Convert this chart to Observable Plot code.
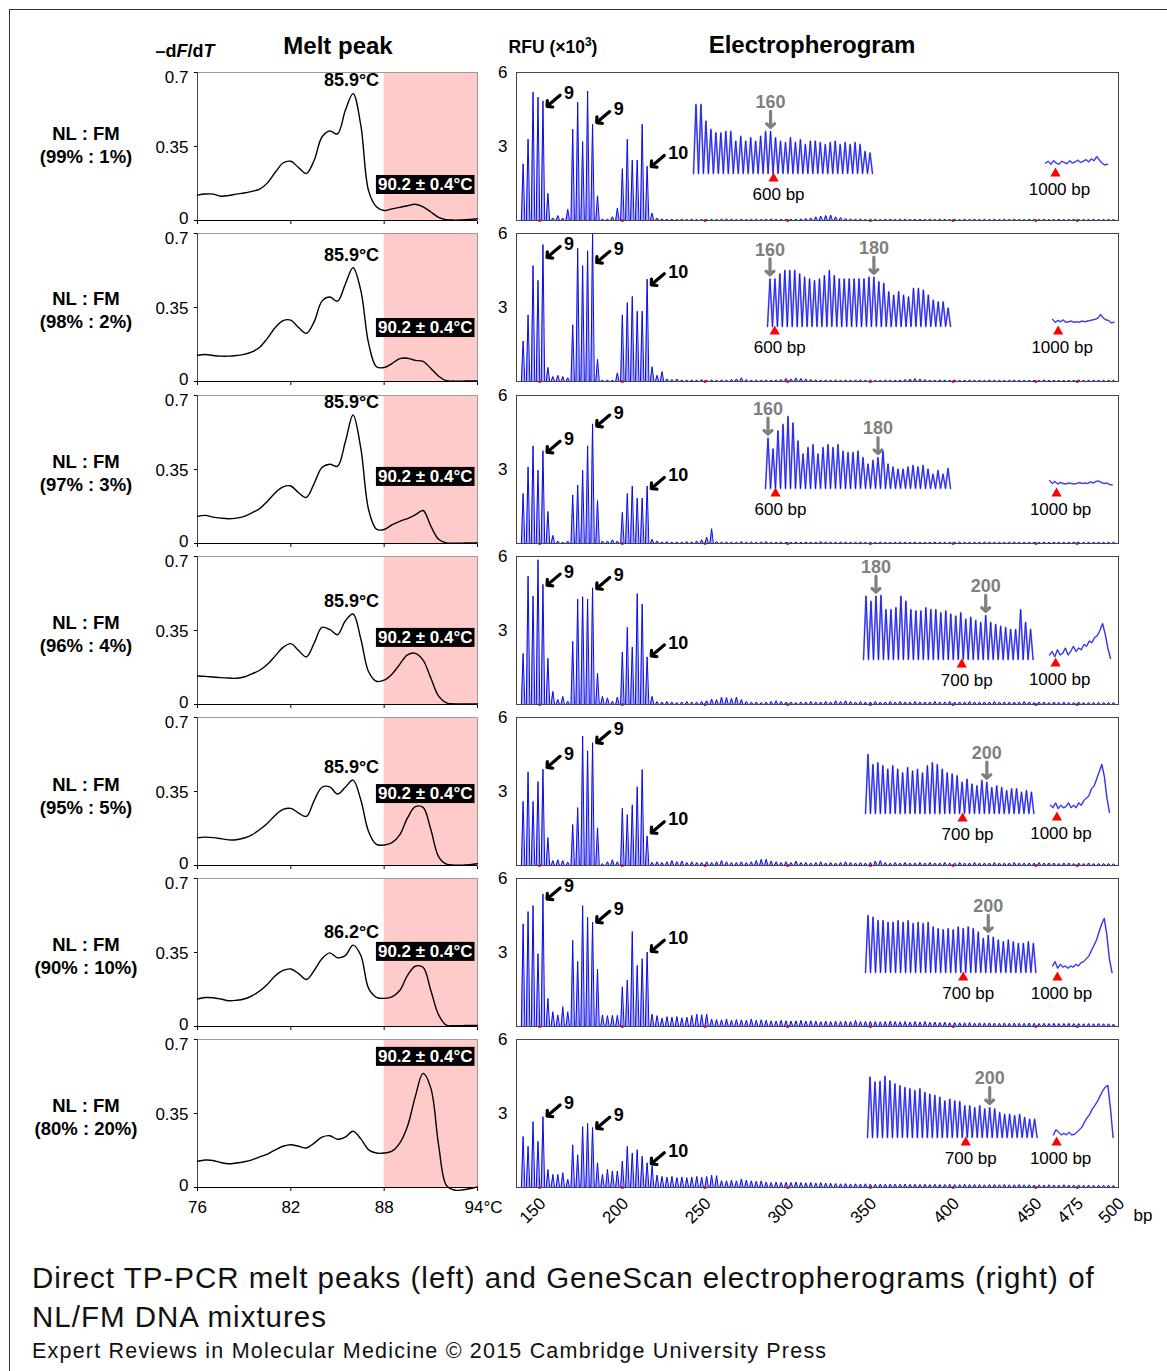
<!DOCTYPE html>
<html><head><meta charset="utf-8">
<script src="https://cdn.jsdelivr.net/npm/d3@7"></script>
<script src="https://cdn.jsdelivr.net/npm/@observablehq/plot@0.6"></script>
<style>
body{margin:0;background:#fff}
#fig{position:relative;width:1167px;height:1371px;overflow:hidden;background:#fff;font-family:"Liberation Sans",Arial,Helvetica,sans-serif;color:#000}
.lbl{position:absolute;line-height:1;white-space:nowrap}
</style></head><body>
<div id="fig"><div style="position:absolute;left:9px;top:9px;width:1300px;height:1500px;border:1.5px solid #333"></div></div>
<script>
// ---------------- DATA ----------------
const mixLabels = ["(99% : 1%)", "(98% : 2%)", "(97% : 3%)", "(96% : 4%)", "(95% : 5%)", "(90% : 10%)", "(80% : 20%)"];
const ratioLabel = "NL : FM";

// Melt peak curves (-dF/dT) sampled every 0.5 °C
const meltT = [76,76.5,77,77.5,78,78.5,79,79.5,80,80.5,81,81.5,82,82.5,83,83.5,84,84.5,85,85.5,86,86.5,87,87.5,88,88.5,89,89.5,90,90.5,91,91.5,92,92.5,93,93.5,94];
const melt1 = [0.12,0.125,0.125,0.115,0.118,0.125,0.13,0.138,0.148,0.178,0.228,0.272,0.28,0.25,0.222,0.285,0.395,0.423,0.41,0.52,0.6,0.45,0.14,0.065,0.047,0.055,0.062,0.07,0.077,0.065,0.04,0.015,0.004,0.002,0.003,0.005,0.008];
const melt2 = [0.124,0.128,0.123,0.12,0.12,0.123,0.128,0.14,0.162,0.205,0.255,0.288,0.29,0.255,0.228,0.283,0.38,0.4,0.38,0.46,0.538,0.43,0.18,0.07,0.066,0.085,0.108,0.11,0.1,0.095,0.062,0.025,0.004,0.002,0.002,0.003,0.003];
const melt3 = [0.128,0.133,0.125,0.12,0.117,0.12,0.128,0.145,0.165,0.2,0.24,0.268,0.272,0.24,0.218,0.284,0.36,0.375,0.365,0.48,0.608,0.45,0.16,0.068,0.066,0.088,0.105,0.118,0.135,0.156,0.082,0.02,0.003,0.002,0.002,0.003,0.003];
const melt4 = [0.135,0.133,0.13,0.127,0.125,0.124,0.13,0.145,0.162,0.19,0.23,0.27,0.288,0.255,0.225,0.29,0.365,0.355,0.33,0.395,0.428,0.31,0.155,0.11,0.115,0.143,0.19,0.235,0.242,0.21,0.125,0.04,0.008,0.003,0.003,0.003,0.003];
const melt5 = [0.131,0.134,0.132,0.127,0.121,0.122,0.13,0.145,0.17,0.2,0.238,0.265,0.27,0.248,0.232,0.307,0.37,0.372,0.338,0.37,0.404,0.31,0.16,0.1,0.097,0.108,0.145,0.225,0.278,0.275,0.17,0.042,0.006,0.002,0.002,0.004,0.008];
const melt6 = [0.13,0.137,0.136,0.13,0.122,0.124,0.13,0.145,0.168,0.2,0.24,0.265,0.272,0.25,0.222,0.265,0.32,0.348,0.325,0.335,0.385,0.336,0.18,0.138,0.133,0.14,0.17,0.242,0.285,0.28,0.17,0.055,0.006,0.004,0.004,0.005,0.005];
const melt7 = [0.124,0.13,0.128,0.118,0.112,0.116,0.122,0.131,0.145,0.158,0.178,0.195,0.202,0.195,0.187,0.21,0.238,0.245,0.228,0.238,0.266,0.23,0.178,0.163,0.163,0.172,0.21,0.29,0.43,0.54,0.47,0.2,0.01,-0.012,-0.012,-0.006,0.003];
const meltRows = [melt1, melt2, melt3, melt4, melt5, melt6, melt7];
const tmLabels = ["85.9°C", "85.9°C", "85.9°C", "85.9°C", "85.9°C", "86.2°C", null];
const fmRange = [88, 94];
const fmLabel = "90.2 ± 0.4°C";
const meltTicksX = [76, 82, 88, 94];
const meltTicksY = [0, 0.35, 0.7];

// Electropherogram: repeat-primed peaks, one every 3 bp from 140 bp
const peakBp = d3.range(140, 498, 3);
const rfu1 = [2.3,3.3,5.2,5.0,4.85,1.1, 0.1,0.2,0.1, 0.45,3.7,4.8,3.2,5.25,3.9,1.0, 0.05,0.05,0.15, 0.5,2.1,3.3,2.45,2.45,3.9,2.2,0.3,
 0.1,0.06,0.05,0.05,0.04,0.05,0.04,0.05,0.04,0.05, 0.04,0.05,0.04,0.05,0.06,0.05,0.04,0.05,0.04,0.05, 0.05,0.04,0.05,0.06,0.05,0.05,0.04,0.05,0.05,0.06,
 0.08,0.1,0.15,0.18,0.2,0.22,0.15,0.12,0.08,0.06, 0.05,0.05,0.04,0.05,0.05,0.04,0.05,0.05,0.04,0.05, 0.05,0.04,0.05,0.05,0.04,0.05,0.04,0.05,0.05,0.04,
 0.05,0.04,0.05,0.04,0.05,0.04,0.05,0.04,0.05,0.04, 0.05,0.04,0.05,0.04,0.04,0.05,0.04,0.04,0.05,0.04, 0.04,0.05,0.04,0.04,0.05,0.04,0.04,0.04,0.05,0.04, 0.04,0.04,0.04];
const rfu2 = [1.64,2.7,4.7,4.1,5.55,0.57, 0.2,0.25,0.2,0.15, 2.3,5.4,4.7,5.3,6.0,0.9, 0.05,0.05,0.05,0.35, 2.7,3.2,3.45,2.85,2.85,4.15,0.6, 0.25,0.4,
 0.1,0.08,0.1,0.06,0.05,0.06,0.05,0.08,0.05,0.06, 0.05,0.06,0.05,0.08,0.1,0.15,0.08,0.05,0.06,0.05, 0.06,0.05,0.06,0.08,0.12,0.1,0.14,0.12,0.1,0.08,
 0.06,0.05,0.06,0.05,0.06,0.05,0.06,0.05,0.05,0.06, 0.05,0.06,0.05,0.05,0.06,0.05,0.05,0.06,0.08,0.1, 0.12,0.1,0.08,0.05,0.05,0.06,0.05,0.05,0.06,0.05,
 0.05,0.06,0.05,0.05,0.05,0.06,0.05,0.05,0.05,0.05, 0.06,0.05,0.05,0.05,0.05,0.05,0.06,0.05,0.05,0.05, 0.05,0.05,0.05,0.06,0.05,0.05,0.05,0.05,0.05,0.05,0.05];
const rfu3 = [2.03,3.1,3.96,2.97,3.76,1.3, 0.33,0.1,0.05,0.1, 1.97,2.37,2.97,3.96,4.85,1.74, 0.1,0.1,0.15,0.1, 1.26,2.03,2.33,1.84,1.84,2.33,0.17,
 0.1,0.06,0.08,0.05,0.06,0.05,0.08,0.06,0.1,0.15, 0.25,0.6,0.08,0.05,0.06,0.05,0.05,0.08,0.05,0.06, 0.05,0.06,0.08,0.05,0.05,0.06,0.05,0.05,0.06,0.05,
 0.06,0.05,0.05,0.08,0.06,0.05,0.05,0.06,0.05,0.05, 0.05,0.06,0.05,0.05,0.05,0.06,0.05,0.05,0.05,0.06, 0.05,0.05,0.06,0.05,0.05,0.05,0.06,0.05,0.05,0.05,
 0.05,0.06,0.05,0.05,0.05,0.05,0.06,0.05,0.05,0.05, 0.05,0.05,0.06,0.05,0.05,0.05,0.05,0.05,0.06,0.05, 0.05,0.05,0.05,0.05,0.06,0.05,0.05,0.05,0.05,0.05, 0.05,0.05,0.05];
const rfu4 = [2.07,5.2,4.4,5.87,4.87,1.87, 0.53,0.2,0.33,0.13, 2.56,4.27,4.37,4.27,4.73,1.27, 0.33,0.27,0.13,0.3, 2.13,3.13,2.33,4.5,4.07,1.93,0.33,
 0.12,0.1,0.12,0.1,0.08,0.1,0.12,0.1,0.1,0.12, 0.15,0.22,0.2,0.3,0.28,0.25,0.3,0.2,0.12,0.1, 0.1,0.08,0.1,0.12,0.15,0.12,0.1,0.1,0.08,0.1,
 0.1,0.12,0.1,0.1,0.12,0.1,0.15,0.12,0.15,0.12, 0.1,0.12,0.1,0.1,0.12,0.1,0.1,0.12,0.1,0.12, 0.1,0.1,0.12,0.1,0.1,0.1,0.12,0.1,0.1,0.12,
 0.1,0.1,0.1,0.12,0.1,0.1,0.1,0.1,0.12,0.1, 0.1,0.1,0.1,0.1,0.12,0.1,0.08,0.1,0.1,0.08, 0.1,0.08,0.1,0.08,0.08,0.1,0.08,0.08,0.08,0.08, 0.08,0.08,0.08];
const rfu5 = [2.6,3.8,2.6,3.4,3.9,1.13, 0.2,0.23,0.2,0.13, 1.66,2.35,5.25,4.65,4.98,1.53, 0.07,0.15,0.23,0.15, 2.32,2.06,2.46,3.19,3.89,1.2,0.13,
 0.15,0.12,0.15,0.2,0.15,0.18,0.12,0.15,0.12,0.12, 0.15,0.12,0.15,0.2,0.15,0.12,0.12,0.15,0.12,0.15, 0.2,0.25,0.25,0.18,0.15,0.12,0.15,0.12,0.18,0.12,
 0.12,0.1,0.12,0.15,0.1,0.12,0.1,0.12,0.15,0.12, 0.1,0.12,0.1,0.12,0.18,0.2,0.12,0.1,0.12,0.1, 0.12,0.1,0.1,0.12,0.1,0.12,0.1,0.1,0.12,0.1,
 0.1,0.12,0.1,0.1,0.12,0.1,0.1,0.1,0.12,0.1, 0.1,0.1,0.12,0.1,0.1,0.1,0.1,0.12,0.1,0.1, 0.1,0.08,0.1,0.1,0.08,0.1,0.08,0.1,0.08,0.08, 0.08,0.08,0.06];
const rfu6 = [4.16,4.66,4.9,2.95,5.37,1.14, 0.6,0.47,0.8,0.6, 3.49,2.64,4.9,4.43,4.23,2.32, 0.47,0.44,0.45,0.45, 1.61,1.88,3.85,2.48,2.75,3.02,0.5, 0.44,0.34,
 0.4,0.38,0.4,0.35,0.38,0.45,0.5,0.48,0.5,0.3, 0.28,0.27,0.3,0.25,0.28,0.27,0.25,0.3,0.25,0.27, 0.25,0.23,0.22,0.25,0.23,0.22,0.23,0.25,0.22,0.23,
 0.22,0.2,0.22,0.2,0.21,0.2,0.22,0.2,0.25,0.2, 0.2,0.21,0.2,0.19,0.2,0.22,0.2,0.19,0.2,0.18, 0.2,0.18,0.2,0.17,0.18,0.16,0.17,0.15,0.16,0.15,
 0.15,0.16,0.14,0.15,0.14,0.15,0.14,0.13,0.14,0.13, 0.14,0.13,0.13,0.14,0.13,0.12,0.13,0.12,0.13,0.12, 0.12,0.13,0.12,0.12,0.11,0.12,0.11,0.12,0.11,0.11,0.1];
const rfu7 = [2.07,1.67,2.67,1.87,2.87,0.73, 0.53,0.53,0.6,0.33, 1.73,1.33,2.47,2.6,2.43,1.0, 0.53,0.73,0.67,0.67, 1.07,1.67,1.4,1.53,1.27,1.0,0.87,
 0.5,0.45,0.42,0.45,0.4,0.43,0.4,0.42,0.45,0.42, 0.45,0.5,0.48,0.28,0.27,0.3,0.27,0.35,0.3,0.27, 0.25,0.27,0.22,0.2,0.22,0.2,0.21,0.2,0.22,0.2,
 0.19,0.2,0.18,0.2,0.18,0.17,0.16,0.15,0.16,0.14, 0.15,0.14,0.15,0.14,0.13,0.14,0.13,0.14,0.13,0.13, 0.14,0.13,0.13,0.12,0.13,0.12,0.13,0.12,0.12,0.13,
 0.12,0.12,0.13,0.12,0.12,0.12,0.11,0.12,0.12,0.11, 0.12,0.11,0.11,0.12,0.11,0.11,0.1,0.11,0.1,0.11, 0.1,0.1,0.11,0.1,0.1,0.1,0.09,0.1,0.09,0.09, 0.09,0.09,0.08];
const rfuRows = [rfu1, rfu2, rfu3, rfu4, rfu5, rfu6, rfu7];
const ladderBp = [150, 200, 250, 300, 350, 400, 450, 475];
const bpTicks = [150, 200, 250, 300, 350, 400, 450, 475, 500];
const rfuTicks = [3, 6];
const repeatArrowBp = [154.5, 184.5, 217.5];
const repeatArrowLabel = ["9", "9", "10"];
const repeatArrowRfu = [[4.63,3.97,2.19],[5.03,4.83,3.92],[3.7,4.76,2.23],[4.84,4.7,1.97],[3.98,4.98,1.33],[5.17,4.23,3.05],[2.9,2.4,0.96]];

// Insets: expanded-repeat region (relative peak heights) and ~1000 bp region
const zoomA1 = [1.0,1.0,0.76,0.64,0.59,0.59,0.61,0.61,0.47,0.54,0.47,0.52,0.47,0.54,0.61,0.61,0.52,0.47,0.45,0.52,0.45,0.49,0.42,0.47,0.47,0.45,0.42,0.45,0.47,0.42,0.45,0.42,0.45,0.42,0.32,0.30];
const zoomA2 = [0.85,0.85,0.94,1.0,1.0,1.0,0.94,0.88,0.85,0.82,0.85,0.91,1.0,0.91,0.85,0.85,0.85,0.85,0.85,0.85,0.88,0.88,0.8,0.77,0.62,0.56,0.62,0.56,0.53,0.68,0.68,0.65,0.56,0.47,0.44,0.44,0.33];
const zoomA3 = [0.70,0.55,0.80,0.89,1.0,0.91,0.66,0.48,0.57,0.61,0.48,0.57,0.61,0.57,0.61,0.52,0.5,0.5,0.52,0.43,0.34,0.39,0.43,0.52,0.34,0.3,0.27,0.27,0.3,0.32,0.3,0.32,0.27,0.2,0.25,0.2,0.28];
const zoomA4 = [0.99,0.91,0.99,1.0,0.78,0.78,0.81,0.99,0.91,0.78,0.76,0.76,0.81,0.78,0.78,0.73,0.76,0.71,0.68,0.73,0.63,0.66,0.61,0.58,0.69,0.58,0.55,0.52,0.5,0.47,0.47,0.78,0.58,0.47];
const zoomA5 = [1.0,0.83,0.86,0.81,0.75,0.81,0.75,0.69,0.78,0.72,0.75,0.69,0.81,0.86,0.83,0.75,0.69,0.67,0.64,0.53,0.58,0.5,0.47,0.56,0.53,0.44,0.47,0.44,0.39,0.42,0.42,0.36,0.39,0.36];
const zoomA6 = [1.0,0.97,0.91,0.91,0.88,0.88,0.91,0.88,0.91,0.86,0.88,0.86,0.88,0.8,0.77,0.75,0.77,0.75,0.8,0.77,0.8,0.77,0.71,0.6,0.65,0.62,0.57,0.54,0.57,0.54,0.51,0.51,0.54,0.51];
const zoomA7 = [0.99,0.91,0.92,1.0,0.93,0.88,0.85,0.82,0.8,0.77,0.8,0.74,0.71,0.69,0.66,0.6,0.63,0.6,0.59,0.52,0.52,0.49,0.52,0.47,0.49,0.47,0.41,0.38,0.38,0.36,0.38,0.33,0.3,0.3];
const zoomARows = [zoomA1, zoomA2, zoomA3, zoomA4, zoomA5, zoomA6, zoomA7];
const zoomB1 = [0.45,0.6,0.35,0.65,0.45,0.35,0.6,0.5,0.4,0.65,0.45,0.55,0.7,0.5,0.6,0.75,0.55,0.8,0.65,1.0,0.7,0.45,0.3,0.35];
const zoomB2 = [0.6,0.35,0.5,0.4,0.55,0.35,0.4,0.45,0.35,0.4,0.35,0.45,0.4,0.45,0.5,0.55,0.6,0.7,1.0,0.7,0.55,0.5,0.3,0.35];
const zoomB3 = [0.8,0.5,0.7,0.45,0.6,0.5,0.45,0.55,0.5,0.45,0.5,0.6,0.5,0.55,0.5,0.65,0.55,0.7,0.75,0.6,0.5,0.55,0.4,0.35];
const zoomB4 = [0.1,0.2,0.05,0.25,0.1,0.15,0.3,0.1,0.2,0.35,0.2,0.3,0.25,0.4,0.35,0.5,0.45,0.6,0.65,0.8,1.0,0.7,0.3,0.0];
const zoomB5 = [0.15,0.1,0.2,0.08,0.15,0.1,0.12,0.2,0.1,0.15,0.1,0.2,0.15,0.25,0.3,0.35,0.5,0.55,0.7,0.85,1.0,0.75,0.3,0.0];
const zoomB6 = [0.12,0.2,0.08,0.15,0.1,0.12,0.08,0.12,0.1,0.15,0.12,0.18,0.2,0.25,0.3,0.4,0.5,0.6,0.75,0.9,1.0,0.7,0.25,0.0];
const zoomB7 = [0.05,0.15,0.1,0.05,0.08,0.05,0.1,0.05,0.06,0.1,0.15,0.2,0.3,0.38,0.45,0.55,0.62,0.7,0.8,0.9,0.97,1.0,0.55,0.0];
const zoomBRows = [zoomB1, zoomB2, zoomB3, zoomB4, zoomB5, zoomB6, zoomB7];
const zoomALabel = ["600 bp", "600 bp", "600 bp", "700 bp", "700 bp", "700 bp", "700 bp"];
const zoomBLabel = "1000 bp";
const zoomAMarker = [16.1, 1.46, 2.0, 19.7, 19.6, 19.5, 19.7];
const zoomBMarker = [3.7, 2.1, 2.6, 2.3, 2.5, 1.9, 1.2];
const repeatMarks = [
  [{i: 15, label: "160"}],
  [{i: 0, label: "160"}, {i: 21, label: "180"}],
  [{i: 0, label: "160"}, {i: 22, label: "180"}],
  [{i: 2, label: "180"}, {i: 24, label: "200"}],
  [{i: 24, label: "200"}],
  [{i: 24, label: "200"}],
  [{i: 24, label: "200"}]
];

// ---------------- LAYOUT ----------------
const FONT = '"Liberation Sans", Arial, Helvetica, sans-serif';
const fig = document.getElementById("fig");
const rowTop = [72, 233, 395, 556, 717, 878, 1039];
const PH = 148;
const fmLabelY = [0.17, 0.255, 0.317, 0.317, 0.34, 0.355, 0.62];
const zoomALayout = [
  {x0: 692.7, x1: 871.7, base: 172.7, H: 69},
  {x0: 766.8, x1: 949.9, base: 326, H: 56},
  {x0: 765, x1: 950, base: 488, H: 72},
  {x0: 863.4, x1: 1033, base: 658.6, H: 64},
  {x0: 864.6, x1: 1033, base: 812.7, H: 59},
  {x0: 864.6, x1: 1035, base: 972.4, H: 57},
  {x0: 866.7, x1: 1036.3, base: 1136.7, H: 61}
];
const zoomBLayout = [
  {x0: 1045, x1: 1107, base: 168, H: 12},
  {x0: 1051.5, x1: 1113, base: 326, H: 12},
  {x0: 1048.7, x1: 1111.4, base: 488, H: 10},
  {x0: 1049, x1: 1110, base: 658, H: 35},
  {x0: 1050, x1: 1109, base: 811.5, H: 48},
  {x0: 1051.5, x1: 1111, base: 972.4, H: 54},
  {x0: 1053.4, x1: 1113, base: 1136.7, H: 52}
];
const baseStyle = {fontFamily: FONT, fontSize: "17px", background: "transparent", overflow: "visible", color: "#000"};
const yTickShift = {0: -2, 0.35: 1, 0.7: 5};

function place(el, left, top) {
  el.style.position = "absolute";
  el.style.left = left + "px";
  el.style.top = top + "px";
  el.style.maxWidth = "none";
  fig.appendChild(el);
  return el;
}
function label(html, x, baseline, size, weight, anchor, color, spacing) {
  const d = document.createElement("div");
  d.className = "lbl";
  d.innerHTML = html;
  d.style.fontSize = size + "px";
  d.style.fontWeight = weight;
  if (color) d.style.color = color;
  if (spacing) d.style.letterSpacing = spacing + "px";
  d.style.top = (baseline - 0.8465 * size) + "px";
  d.style.left = x + "px";
  if (anchor === "middle") d.style.transform = "translateX(-50%)";
  fig.appendChild(d);
}

// ---------------- MELT PEAK PANELS ----------------
meltRows.forEach((vals, r) => {
  const last = r === 6;
  const data = meltT.map((t, i) => ({t, v: vals[i]}));
  const peakV = d3.max(data.filter(d => d.t >= 85 && d.t <= 87), d => d.v);
  const ML = 50, MR = 14, MT = 10, MB = last ? 40 : 10;
  const marks = [
    Plot.rect([fmRange], {x1: d => d[0], x2: d => d[1], fill: "#ffcaca"}),
    Plot.frame({stroke: "#9a9a9a"}),
    Plot.ruleX([76], {stroke: "#444"}),
    Plot.ruleY([0], {stroke: "#000"}),
    Plot.line(data, {x: "t", y: "v", curve: "catmull-rom", stroke: "#000", strokeWidth: 1.4})
  ];
  meltTicksY.forEach(v => marks.push(Plot.text([v], {y: d => d, frameAnchor: "left", dx: -9, dy: yTickShift[v], textAnchor: "end", text: d => String(d), fontSize: 17})));
  if (tmLabels[r]) marks.push(Plot.text([tmLabels[r]], {x: 85.9, y: peakV, dy: -13, text: d => d, fontWeight: "bold", fontSize: 18}));
  marks.push(Plot.text([fmLabel], {frameAnchor: "right", y: fmLabelY[r], dx: -5, textAnchor: "end", text: d => d, fill: "white", fontWeight: "bold", fontSize: 17}));
  if (last) {
    marks.push(Plot.text(meltTicksX.filter(d => d !== 94), {x: d => d, frameAnchor: "bottom", lineAnchor: "middle", dy: 20, text: d => String(d), fontSize: 17}));
    marks.push(Plot.text([94], {x: d => d, frameAnchor: "bottom", lineAnchor: "middle", dy: 20, dx: 6, text: d => d + "°C", fontSize: 17}));
  }
  const svg = Plot.plot({
    width: 280 + ML + MR, height: PH + MT + MB,
    marginLeft: ML, marginRight: MR, marginTop: MT, marginBottom: MB,
    style: baseStyle,
    x: {domain: [76, 94], ticks: meltTicksX, tickFormat: () => "", tickSize: 4, label: null},
    y: {domain: [0, 0.7], ticks: meltTicksY, tickFormat: () => "", tickSize: 3, label: null},
    marks
  });
  place(svg, 197 - ML, rowTop[r] - MT);
});

// ---------------- ELECTROPHEROGRAM PANELS ----------------
const KX = 602 / 364, KY = PH / 6;
rfuRows.forEach((vals, r) => {
  const last = r === 6;
  const pts = [];
  vals.forEach((h, i) => {
    const bp = peakBp[i];
    pts.push({x: bp - 1.05, y: 0}, {x: bp, y: h}, {x: bp + 1.05, y: 0});
  });
  const arr = repeatArrowBp.map((bp, k) => ({
    x2: bp, y2: repeatArrowRfu[r][k],
    x1: bp + 13 / KX, y1: repeatArrowRfu[r][k] + 11 / KY,
    label: repeatArrowLabel[k]
  }));
  const ML = 40, MR = 50, MT = 10, MB = last ? 50 : 10;
  const marks = [
    Plot.areaY(pts, {x: "x", y: "y", fill: "#a8a8ff"}),
    Plot.line(pts, {x: "x", y: "y", stroke: "#0a0ae6", strokeWidth: 1}),
    Plot.dot(ladderBp, {x: d => d, y: 0, r: 1.6, fill: "#ff1010", stroke: null}),
    Plot.frame({stroke: "#444"}),
    Plot.arrow(arr, {x1: "x1", y1: "y1", x2: "x2", y2: "y2", stroke: "#000", strokeWidth: 3.2, headLength: 7, headAngle: 95}),
    Plot.text(arr, {x: "x1", y: "y1", text: "label", dx: 4, dy: -2, textAnchor: "start", fontWeight: "bold", fontSize: 18})
  ];
  if (last) marks.push(Plot.text(bpTicks, {x: d => d, frameAnchor: "bottom", text: d => String(d), rotate: -45, textAnchor: "end", dx: 7, dy: 17, fontSize: 17}));
  const svg = Plot.plot({
    width: 602 + ML + MR, height: PH + MT + MB,
    marginLeft: ML, marginRight: MR, marginTop: MT, marginBottom: MB,
    style: baseStyle,
    x: {domain: [136, 500], axis: null},
    y: {domain: [0, 6], ticks: rfuTicks, tickFormat: d => String(d), tickSize: 0, tickPadding: 9, label: null},
    marks
  });
  place(svg, 516 - ML, rowTop[r] - MT);
});

// ---------------- INSETS ----------------
zoomARows.forEach((vals, r) => {
  const L = zoomALayout[r], n = vals.length, w = L.x1 - L.x0, H = L.H;
  const pts = [{x: 0, y: 0}];
  vals.forEach((h, i) => pts.push({x: i + 0.5, y: h}, {x: i + 1, y: 0}));
  const grey = repeatMarks[r].map(g => ({x: g.i + 0.5, h: vals[g.i], label: g.label}));
  const M = {l: 30, r: 40, t: 45, b: 35};
  const svg = Plot.plot({
    width: w + M.l + M.r, height: H + M.t + M.b,
    marginLeft: M.l, marginRight: M.r, marginTop: M.t, marginBottom: M.b,
    style: baseStyle,
    x: {domain: [0, n], axis: null},
    y: {domain: [0, 1], axis: null},
    marks: [
      Plot.line(pts, {x: "x", y: "y", stroke: "#8a8aff", strokeWidth: 1.8}),
      Plot.line(pts, {x: "x", y: "y", stroke: "#0000dd", strokeWidth: 0.7}),
      Plot.arrow(grey, {x1: "x", x2: "x", y1: d => d.h + 20 / H, y2: d => d.h + 4 / H, stroke: "#7f7f7f", strokeWidth: 3.2, headLength: 7, headAngle: 95}),
      Plot.text(grey, {x: "x", y: d => d.h + 29 / H, text: "label", fill: "#7f7f7f", fontWeight: "bold", fontSize: 18}),
      Plot.dot([zoomAMarker[r]], {x: d => d, y: 0, dy: 5, symbol: "triangle", r: 3.8, fill: "#ff0000", stroke: null}),
      Plot.text([zoomALabel[r]], {x: zoomAMarker[r], y: 0, dy: 21, dx: 5, text: d => d, fontSize: 17})
    ]
  });
  place(svg, L.x0 - M.l, L.base - H - M.t);
});
zoomBRows.forEach((vals, r) => {
  const L = zoomBLayout[r], n = vals.length, w = L.x1 - L.x0, H = L.H;
  const pts = vals.map((v, i) => ({x: i, y: v}));
  const M = {l: 30, r: 40, t: 20, b: 35};
  const svg = Plot.plot({
    width: w + M.l + M.r, height: H + M.t + M.b,
    marginLeft: M.l, marginRight: M.r, marginTop: M.t, marginBottom: M.b,
    style: baseStyle,
    x: {domain: [0, n - 1], axis: null},
    y: {domain: [0, 1], axis: null},
    marks: [
      Plot.line(pts, {x: "x", y: "y", stroke: "#8a8aff", strokeWidth: 1.6}),
      Plot.line(pts, {x: "x", y: "y", stroke: "#0000dd", strokeWidth: 0.7}),
      Plot.dot([zoomBMarker[r]], {x: d => d, y: 0, dy: 5, symbol: "triangle", r: 3.8, fill: "#ff0000", stroke: null}),
      Plot.text([zoomBLabel], {x: zoomBMarker[r], y: 0, dy: 21, dx: 4, text: d => d, fontSize: 17})
    ]
  });
  place(svg, L.x0 - M.l, L.base - H - M.t);
});

// black boxes behind the FM melting temperature labels
fig.querySelectorAll("svg text").forEach(t => {
  if (t.textContent === fmLabel) {
    const bb = t.getBBox();
    const rect = document.createElementNS("http://www.w3.org/2000/svg", "rect");
    rect.setAttribute("x", bb.x - 2);
    rect.setAttribute("y", bb.y);
    rect.setAttribute("width", bb.width + 4);
    rect.setAttribute("height", bb.height);
    rect.setAttribute("fill", "#000");
    const tr = t.getAttribute("transform");
    if (tr) rect.setAttribute("transform", tr);
    t.parentNode.insertBefore(rect, t);
  }
});

// ---------------- TEXT LABELS ----------------
label("–d<i>F</i>/d<i>T</i>", 185, 57, 18, "bold", "middle");
label("Melt peak", 338, 54, 24, "bold", "middle");
label('RFU (×10<span style="font-size:12px;position:relative;top:-7px">3</span>)', 553, 54, 17.5, "bold", "middle");
label("Electropherogram", 812, 53.5, 24, "bold", "middle");
const rowBase1 = [141, 306, 469, 630, 792, 952, 1113];
mixLabels.forEach((m, r) => {
  label(ratioLabel, 86, rowBase1[r], 18.5, "bold", "middle");
  label(m, 86, rowBase1[r] + 22.5, 18.5, "bold", "middle");
});
label("bp", 1143, 1221, 17, "normal", "middle");
label("Direct TP-PCR melt peaks (left) and GeneScan electropherograms (right) of", 32, 1288, 29.5, "normal", "start", "#111", 1);
label("NL/FM DNA mixtures", 32, 1327, 29.5, "normal", "start", "#111", 1);
label("Expert Reviews in Molecular Medicine © 2015 Cambridge University Press", 32, 1359, 21.5, "normal", "start", "#111", 1.2);
</script></body></html>
